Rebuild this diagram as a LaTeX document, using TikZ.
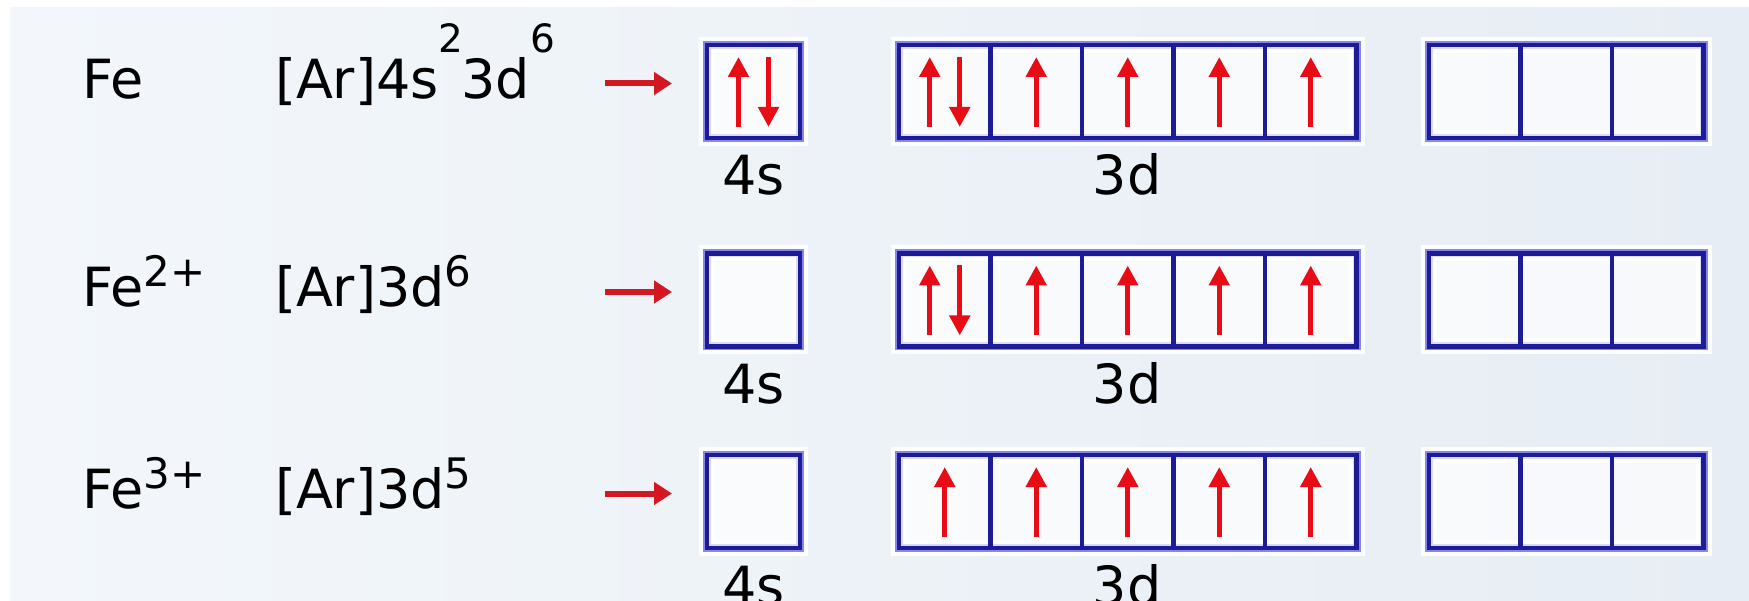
\documentclass[tikz,border=0pt]{standalone}
\usepackage{fontspec}
\setmainfont{DejaVu Sans}
\usetikzlibrary{arrows.meta}
\pgfdeclarelayer{background}
\pgfsetlayers{background,main}

\definecolor{bgA}{RGB}{243,247,251}
\definecolor{bgB}{RGB}{231,237,244}
\definecolor{boxline}{RGB}{28,28,150}
\definecolor{boxhalo}{RGB}{135,135,235}
\definecolor{spin}{RGB}{232,12,22}
\definecolor{pointer}{RGB}{210,24,34}

% superscripts used in the electron configurations
\newcommand\supraised[1]{\raisebox{46pt}{\fontsize{39}{40}\selectfont #1}}
\newcommand\supnormal[1]{\raisebox{20pt}{\fontsize{42}{44}\selectfont #1}}

\tikzset{
  txt/.style={inner sep=0pt, outer sep=0pt, anchor=base west, font=\fontsize{54}{60}\selectfont},
  lbl/.style={inner sep=0pt, outer sep=0pt, anchor=base, font=\fontsize{54}{60}\selectfont},
  cell/.style={draw=boxline, line width=4.5pt, fill=white, fill opacity=0.7, text opacity=1,
               minimum width=91.5pt, minimum height=93pt, inner sep=0pt, outer sep=0pt},
  scell/.style={cell, minimum width=93pt},
  glow/.style={draw=white, line width=16pt, opacity=0.9},
  halo/.style={draw=boxhalo, line width=8pt},
  spinarrow/.style={draw=spin, line width=5pt, -{Triangle[width=20pt,length=20pt]}},
  pointerarrow/.style={draw=pointer, line width=6pt, -{Triangle[width=22pt,length=18pt,fill=spin]}},
}

\begin{document}
\begin{tikzpicture}[x=1pt,y=-1pt]
\useasboundingbox (0,0) rectangle (1749,601);
\begin{pgfonlayer}{background}
  \fill[white] (0,0) rectangle (1749,601);
  \shade[left color=bgA, right color=bgB] (10,8) rectangle (1749,601);
\end{pgfonlayer}

% one row per species: index / vertical centre / element / configuration
\foreach \r/\y/\el/\cfg in {1/91.5/{Fe}/{[Ar]4s\supraised{2}\kern-2pt3d\supraised{6}},
                            2/300/{Fe\supnormal{2+}}/{[Ar]3d\supnormal{6}},
                            3/501.5/{Fe\supnormal{3+}}/{[Ar]3d\supnormal{5}}}{
  \node[txt] (el\r) at (82,\y+7) {\el};
  \node[txt] (cf\r) at (275,\y+7) {\cfg};
  \coordinate (pa\r) at (605,\y-8);
  \coordinate (pb\r) at (672,\y-8);
  \draw[pointerarrow] (pa\r) -- (pb\r);

  % 4s orbital
  \node[scell] (s\r) at (753.5,\y) {};
  % 3d orbitals
  \foreach \i in {1,...,5}
    \node[cell] (d\r-\i) at ({899+91.5*(\i-0.5)},\y) {};
  % empty orbitals on the right
  \foreach \i in {1,2,3}
    \node[cell] (e\r-\i) at ({1429+91.5*(\i-0.5)},\y) {};

  \begin{pgfonlayer}{background}
    \foreach \a/\b in {s\r/s\r, d\r-1/d\r-5, e\r-1/e\r-3}{
      \draw[glow] (\a.north west) rectangle (\b.south east);
      \draw[halo] (\a.north west) rectangle (\b.south east);
    }
  \end{pgfonlayer}

  \node[lbl] (l4s\r) at (753.5,\y+103.5) {4s};
  \node[lbl] (l3d\r) at (1127,\y+103.5) {3d};
}

% paired spins: 4s of Fe and the first 3d orbital of Fe and Fe2+
\foreach \c in {s1,d1-1,d2-1}{
  \draw[spinarrow] ([shift={(-15,-11)}]\c.south) -- ([shift={(-15,12)}]\c.north);
  \draw[spinarrow] ([shift={(15,12)}]\c.north) -- ([shift={(15,-11)}]\c.south);
}
% single spins
\foreach \c in {d1-2,d1-3,d1-4,d1-5,d2-2,d2-3,d2-4,d2-5,d3-1,d3-2,d3-3,d3-4,d3-5}
  \draw[spinarrow] ([shift={(0,-11)}]\c.south) -- ([shift={(0,12)}]\c.north);
\end{tikzpicture}
\end{document}
